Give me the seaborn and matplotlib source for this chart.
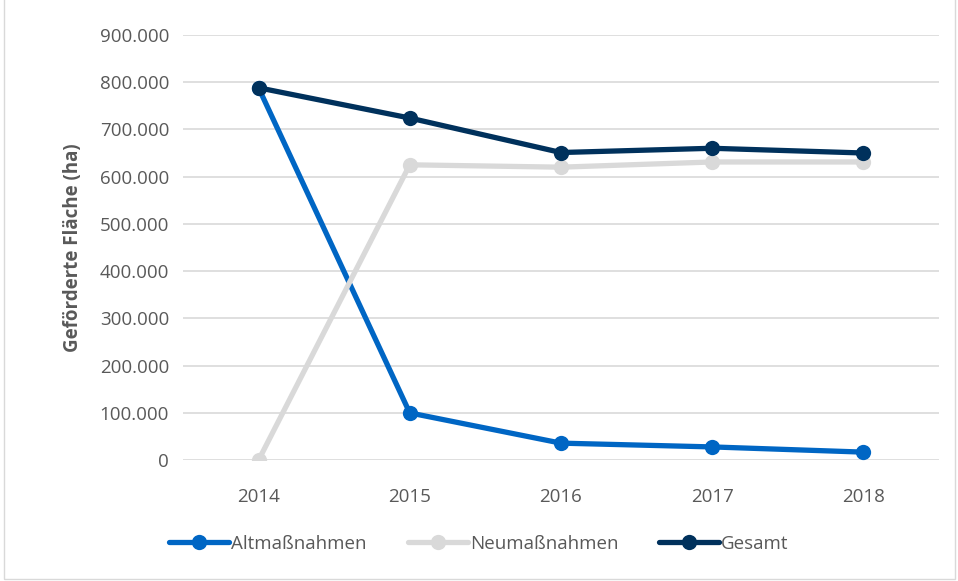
import numpy as np
import pandas as pd
import seaborn as sn
import matplotlib.pyplot as plt
from matplotlib.ticker import FuncFormatter
from matplotlib.patches import Rectangle

# Data (ha)
years = ["2014", "2015", "2016", "2017", "2018"]
alt = [788000, 100000, 36000, 28000, 17000]
neu = [0, 625000, 620000, 631000, 631000]
gesamt = [788000, 724000, 651000, 660000, 650000]
series = ["Altmaßnahmen", "Neumaßnahmen", "Gesamt"]
colors = ["#0066C4", "#D9D9D9", "#00315C"]

df = pd.DataFrame({
    "Jahr": years * 3,
    "Fläche": alt + neu + gesamt,
    "Serie": [s for s in series for _ in years],
})

sn.set_style("white")
plt.rcParams['font.family'] = ['Open Sans', 'DejaVu Sans']

fig = plt.figure(figsize=(9.58, 5.81), dpi=100)
ax = fig.add_axes([0.191, 0.208, 0.789, 0.732])

sn.lineplot(data=df, x="Jahr", y="Fläche", hue="Serie", palette=colors,
            marker="o", markersize=11, markeredgewidth=0, linewidth=3.8,
            sort=False, ax=ax)

ax.set_xlim(-0.5, 4.5)
ax.set_ylim(0, 900000)
ax.set_yticks(np.arange(0, 900001, 100000))
ax.yaxis.set_major_formatter(FuncFormatter(lambda v, p: "{:,.0f}".format(v).replace(",", ".")))
ax.grid(axis="y", color="#D9D9D9", linewidth=1.2)
ax.set_axisbelow(True)
for s in ax.spines.values():
    s.set_visible(False)
ax.tick_params(axis="both", length=0, labelsize=13.5, labelcolor="#595959")
ax.tick_params(axis="x", pad=20)
ax.tick_params(axis="y", pad=10)
ax.set_xlabel("")
ax.set_ylabel("Geförderte Fläche (ha)", fontsize=13.5, fontweight="bold", color="#595959", labelpad=12)

handles, labels = ax.get_legend_handles_labels()
ax.legend_.remove()
fig.legend(handles, labels, loc="lower center", bbox_to_anchor=(0.5, 0.02), ncol=3,
           frameon=False, fontsize=13.5, labelcolor="#595959", handlelength=3.2,
           handletextpad=0.1, columnspacing=2.2)

fig.patches.append(Rectangle((0.004, 0.004), 0.993, 1.1, transform=fig.transFigure,
                             fill=False, edgecolor="#D9D9D9", linewidth=1))

fig.savefig("out.png", dpi=100)
